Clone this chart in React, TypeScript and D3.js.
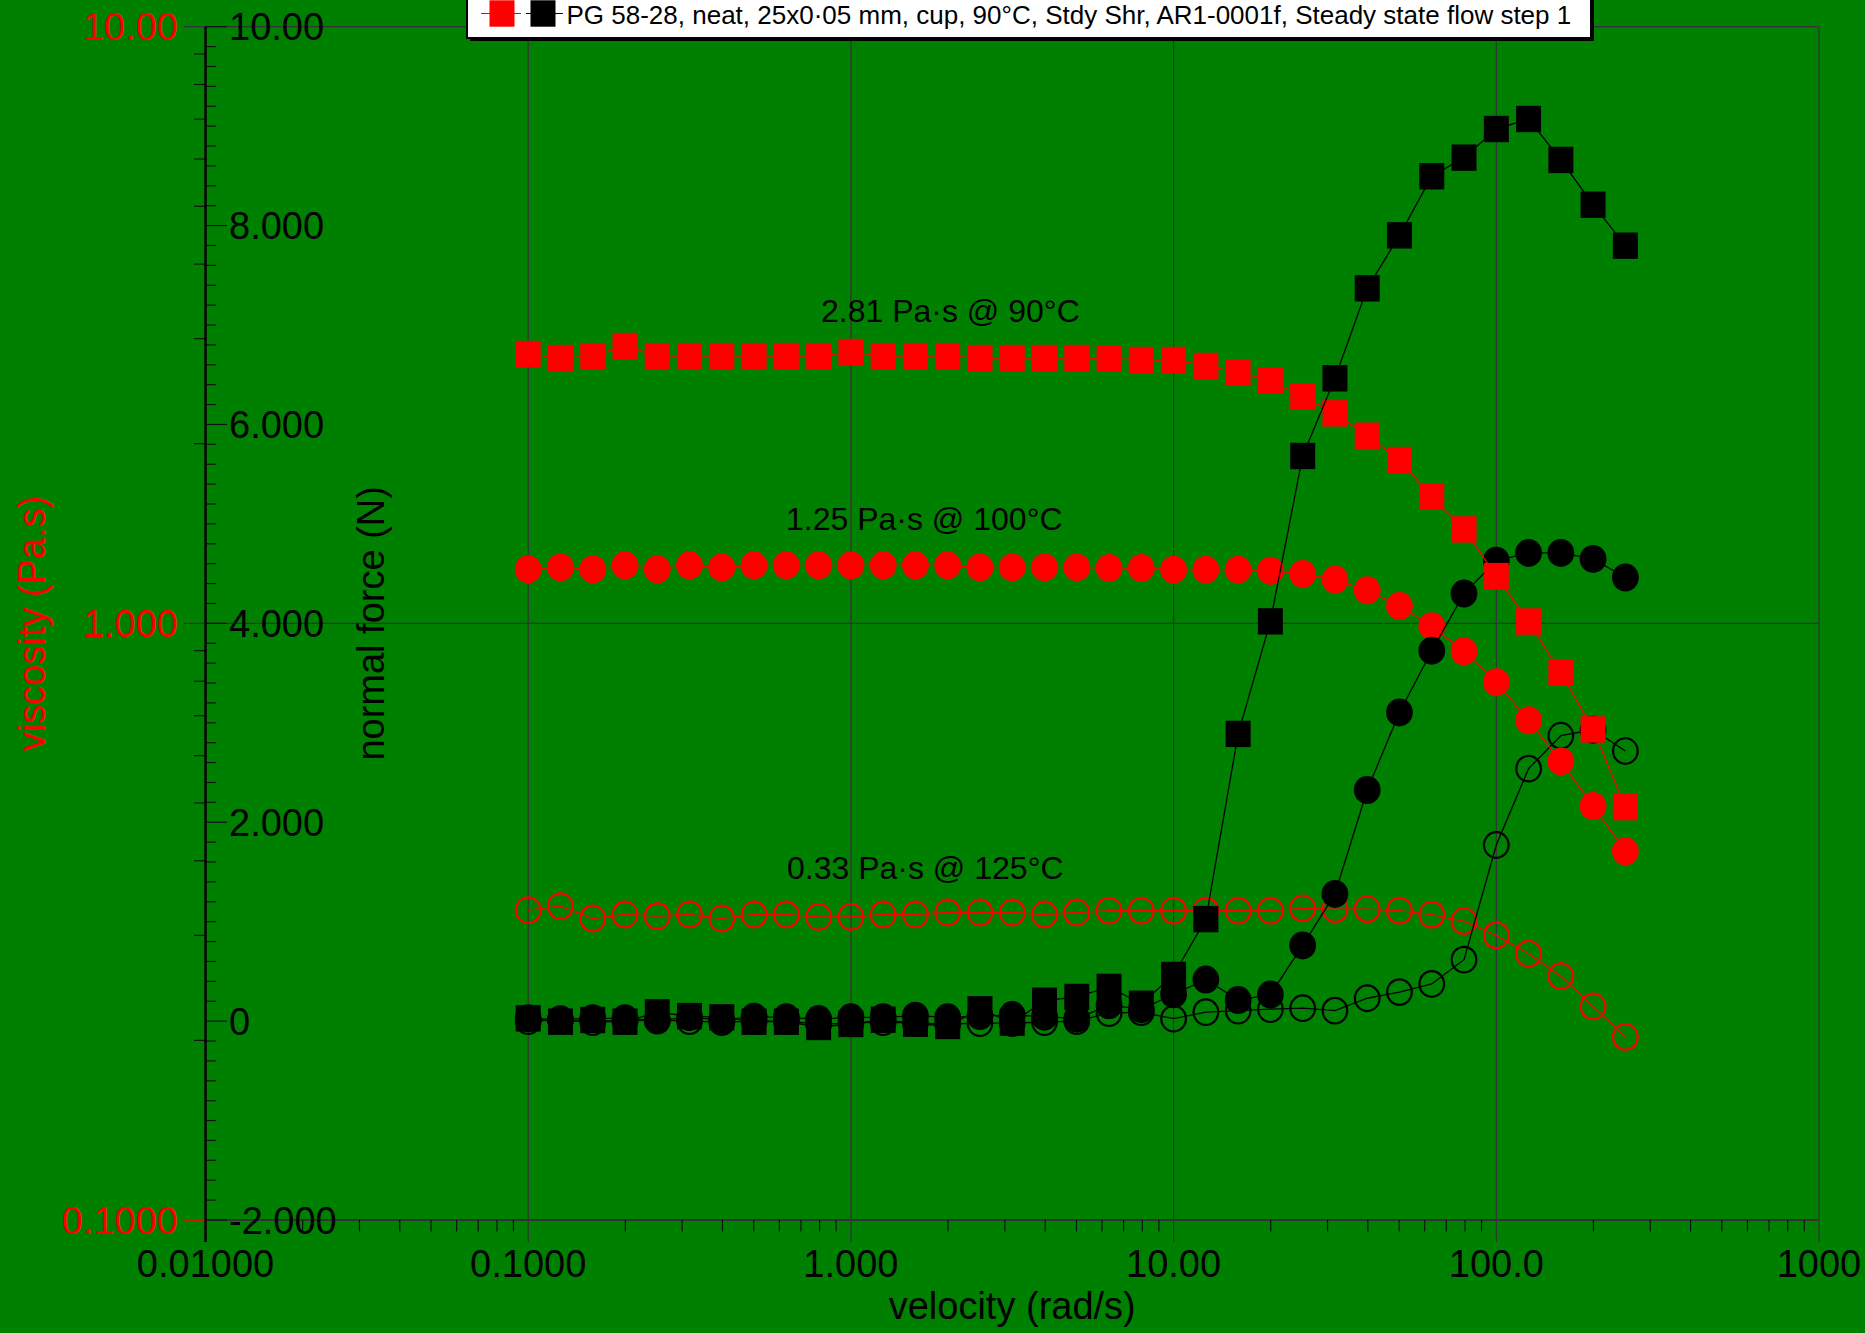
import React from 'react';
import * as d3 from 'd3';

// Angular velocity sweep (rad/s), 10 points per decade
const velocity = [
  0.1, 0.1259, 0.1585, 0.1995, 0.2512, 0.3162, 0.3981, 0.5012, 0.631, 0.7943,
  1.0, 1.259, 1.585, 1.995, 2.512, 3.162, 3.981, 5.012, 6.31, 7.943,
  10.0, 12.59, 15.85, 19.95, 25.12, 31.62, 39.81, 50.12, 63.1, 79.43,
  100.0, 125.9, 158.5, 199.5, 251.2,
];

// Viscosity (Pa.s)
const visc90 = [
  2.828, 2.784, 2.805, 2.916, 2.805, 2.805, 2.805, 2.805, 2.805, 2.805,
  2.849, 2.805, 2.805, 2.805, 2.784, 2.784, 2.784, 2.784, 2.78, 2.763,
  2.763, 2.7, 2.634, 2.554, 2.398, 2.249, 2.063, 1.878, 1.63, 1.437,
  1.2, 1.007, 0.827, 0.664, 0.492,
];
const visc100 = [
  1.232, 1.241, 1.232, 1.251, 1.232, 1.251, 1.241, 1.251, 1.251, 1.251,
  1.251, 1.251, 1.251, 1.251, 1.241, 1.241, 1.241, 1.241, 1.238, 1.238,
  1.23, 1.23, 1.23, 1.225, 1.21, 1.184, 1.136, 1.069, 0.989, 0.898,
  0.797, 0.688, 0.587, 0.494, 0.415,
];
const visc125 = [
  0.3306, 0.3358, 0.3201, 0.3251, 0.323, 0.3251, 0.3201, 0.3251, 0.3251, 0.3221,
  0.3221, 0.3251, 0.3251, 0.3276, 0.3276, 0.3276, 0.3251, 0.3276, 0.33, 0.33,
  0.33, 0.33, 0.33, 0.33, 0.333, 0.332, 0.332, 0.33, 0.325, 0.317,
  0.3, 0.2795, 0.2563, 0.228, 0.2027,
];

// Normal force (N)
const force90 = [
  0.028, -0.006, 0.011, -0.006, 0.088, 0.051, 0.038, -0.006, -0.006, -0.059,
  -0.029, 0.014, -0.026, -0.049, 0.119, -0.016, 0.205, 0.243, 0.344, 0.175,
  0.464, 1.026, 2.888, 4.02, 5.683, 6.464, 7.369, 7.902, 8.496, 8.683,
  8.971, 9.072, 8.66, 8.21, 7.798,
];
const force100 = [
  0.028, 0.018, 0.028, 0.028, 0.005, 0.041, 0.011, 0.045, 0.038, 0.021,
  0.038, 0.038, 0.055, 0.038, 0.051, 0.061, 0.045, 0.025, 0.16, 0.12,
  0.27, 0.418, 0.212, 0.267, 0.761, 1.279, 2.324, 3.104, 3.725, 4.299,
  4.63, 4.708, 4.708, 4.648, 4.461,
];
const force125 = [
  0.0, 0.01, -0.01, 0.0, 0.01, 0.0, -0.01, 0.0, 0.0, -0.03,
  -0.02, -0.01, -0.02, -0.03, -0.02, -0.02, -0.01, 0.0, 0.08, 0.09,
  0.025, 0.09, 0.105, 0.12, 0.13, 0.105, 0.23, 0.292, 0.374, 0.618,
  1.771, 2.539, 2.87, 2.93, 2.716,
];

const xTickValues = [0.01, 0.1, 1, 10, 100, 1000];
const xTickLabels = ['0.01000', '0.1000', '1.000', '10.00', '100.0', '1000'];
const viscTickValues = [0.1, 1, 10];
const viscTickLabels = ['0.1000', '1.000', '10.00'];
const forceTickValues = [-2, 0, 2, 4, 6, 8, 10];
const forceTickLabels = ['-2.000', '0', '2.000', '4.000', '6.000', '8.000', '10.00'];

const annotationTexts = ['2.81 Pa·s @ 90°C', '1.25 Pa·s @ 100°C', '0.33 Pa·s @ 125°C'];
const legendText =
  'PG 58-28, neat, 25x0·05 mm, cup, 90°C, Stdy Shr, AR1-0001f, Steady state flow step 1';

const W = 1865;
const H = 1333;
const LEFT = 205.5;
const RIGHT = 1819;
const TOP = 26.7;
const BOTTOM = 1220;
const GREEN = '#008000';
const RED = '#ff0000';
const GRID = '#333333';
const FONT = 'Arial, "Liberation Sans", sans-serif';

const x = d3.scaleLog().domain([0.01, 1000]).range([LEFT, RIGHT]);
const yVisc = d3.scaleLog().domain([0.1, 10]).range([BOTTOM, TOP]);
const yForce = d3.scaleLinear().domain([-2, 10]).range([BOTTOM, TOP]);

type Marker = 'square' | 'disc' | 'ring';

function Series({
  values,
  y,
  color,
  marker,
}: {
  values: number[];
  y: (v: number) => number;
  color: string;
  marker: Marker;
}) {
  const pts = velocity.map((v, i) => [x(v), y(values[i])] as [number, number]);
  const path = d3.line()(pts) || '';
  return (
    <g>
      <path d={path} fill="none" stroke={color} strokeWidth={1.3} />
      {pts.map(([px, py], i) => {
        if (marker === 'square') {
          return <rect key={i} x={px - 12.5} y={py - 13.2} width={25} height={26.4} fill={color} />;
        }
        if (marker === 'disc') {
          return <ellipse key={i} cx={px} cy={py} rx={13.4} ry={14} fill={color} />;
        }
        return (
          <ellipse key={i} cx={px} cy={py} rx={12.3} ry={12.8} fill="none" stroke={color} strokeWidth={2.2} />
        );
      })}
    </g>
  );
}

export default function App() {
  const xMinor = x.ticks().filter((t) => !xTickValues.some((m) => Math.abs(m - t) < 1e-9));
  const viscMinor = yVisc.ticks().filter((t) => !viscTickValues.some((m) => Math.abs(m - t) < 1e-9));
  const forceMinor = d3
    .range(-2, 10.0001, 0.2)
    .filter((t) => Math.abs(t / 2 - Math.round(t / 2)) > 1e-6);

  return (
    <div style={{ position: 'absolute', left: 0, top: 0, width: W, height: H }}>
      <svg width={W} height={H} style={{ display: 'block', fontFamily: FONT }}>
        <rect x={0} y={0} width={W} height={H} fill={GREEN} />

        {/* grid: vertical decade lines extend below the axis as major ticks */}
        {xTickValues.map((t) => (
          <line key={'gx' + t} x1={x(t)} x2={x(t)} y1={TOP} y2={BOTTOM + 22} stroke={t === 0.01 ? '#000' : GRID} strokeWidth={t === 0.01 ? 2 : 1.2} />
        ))}
        {[10, 1].map((t) => (
          <line key={'gy' + t} x1={184} x2={RIGHT} y1={yVisc(t)} y2={yVisc(t)} stroke={GRID} strokeWidth={1.2} />
        ))}
        <line x1={LEFT} x2={RIGHT} y1={BOTTOM} y2={BOTTOM} stroke={GRID} strokeWidth={1.8} />

        {/* x minor ticks */}
        {xMinor.map((t, i) => (
          <line key={'xm' + i} x1={x(t)} x2={x(t)} y1={BOTTOM} y2={BOTTOM + 11.5} stroke="#111" strokeWidth={1.2} />
        ))}

        {/* viscosity (log) minor ticks, left side of axis */}
        {viscMinor.map((t, i) => (
          <line key={'vm' + i} x1={194} x2={LEFT} y1={yVisc(t)} y2={yVisc(t)} stroke="#111" strokeWidth={1.2} />
        ))}
        <line x1={184} x2={LEFT} y1={yVisc(0.1)} y2={yVisc(0.1)} stroke={RED} strokeWidth={1.5} />

        {/* normal force minor and major ticks, right side of axis */}
        {forceMinor.map((t, i) => (
          <line key={'fm' + i} x1={LEFT} x2={216} y1={yForce(t)} y2={yForce(t)} stroke="#111" strokeWidth={1.2} />
        ))}
        {forceTickValues.map((t) => (
          <line key={'fM' + t} x1={LEFT} x2={227} y1={yForce(t)} y2={yForce(t)} stroke="#111" strokeWidth={1.2} />
        ))}

        <line x1={LEFT} x2={LEFT} y1={TOP} y2={BOTTOM + 22} stroke="#000" strokeWidth={2} />

        {/* tick labels */}
        {xTickValues.map((t, i) => (
          <text key={'xl' + t} x={x(t)} y={1277} fontSize={38} textAnchor="middle" fill="#000">
            {xTickLabels[i]}
          </text>
        ))}
        {viscTickValues.map((t, i) => (
          <text key={'vl' + t} x={178} y={yVisc(t) + 13.5} fontSize={38} textAnchor="end" fill={RED}>
            {viscTickLabels[i]}
          </text>
        ))}
        {forceTickValues.map((t, i) => (
          <text key={'fl' + t} x={229} y={yForce(t) + 13.5} fontSize={38} textAnchor="start" fill="#000">
            {forceTickLabels[i]}
          </text>
        ))}

        {/* axis titles */}
        <text x={(LEFT + RIGHT) / 2} y={1319} fontSize={38} textAnchor="middle" fill="#000">
          velocity (rad/s)
        </text>
        <text transform={`translate(45,${(TOP + BOTTOM) / 2}) rotate(-90)`} fontSize={38} textAnchor="middle" fill={RED}>
          viscosity (Pa.s)
        </text>
        <text transform={`translate(383.5,${(TOP + BOTTOM) / 2}) rotate(-90)`} fontSize={38} textAnchor="middle" fill="#000">
          normal force (N)
        </text>

        {/* annotations */}
        <text x={821} y={321.7} fontSize={32} fill="#000">{annotationTexts[0]}</text>
        <text x={786} y={530} fontSize={32} fill="#000">{annotationTexts[1]}</text>
        <text x={787} y={878.5} fontSize={32} fill="#000">{annotationTexts[2]}</text>

        {/* data: 125 °C, then 100 °C, then 90 °C */}
        <Series values={visc125} y={yVisc} color={RED} marker="ring" />
        <Series values={force125} y={yForce} color="#000" marker="ring" />
        <Series values={visc100} y={yVisc} color={RED} marker="disc" />
        <Series values={force100} y={yForce} color="#000" marker="disc" />
        <Series values={visc90} y={yVisc} color={RED} marker="square" />
        <Series values={force90} y={yForce} color="#000" marker="square" />

        {/* legend */}
        <rect x={470} y={-10} width={1124} height={51} fill="#000" />
        <rect x={467} y={-13} width={1124} height={51} fill="#fff" stroke="#000" strokeWidth={2} />
        <line x1={481} x2={521} y1={13.5} y2={13.5} stroke={RED} strokeWidth={1.2} />
        <rect x={489.5} y={0.3} width={25} height={26.4} fill={RED} />
        <line x1={526} x2={563} y1={13.5} y2={13.5} stroke="#000" strokeWidth={1.2} />
        <rect x={530.5} y={0.3} width={25} height={26.4} fill="#000" />
        <text x={566.5} y={23.5} fontSize={26} fill="#000">{legendText}</text>
      </svg>
    </div>
  );
}
